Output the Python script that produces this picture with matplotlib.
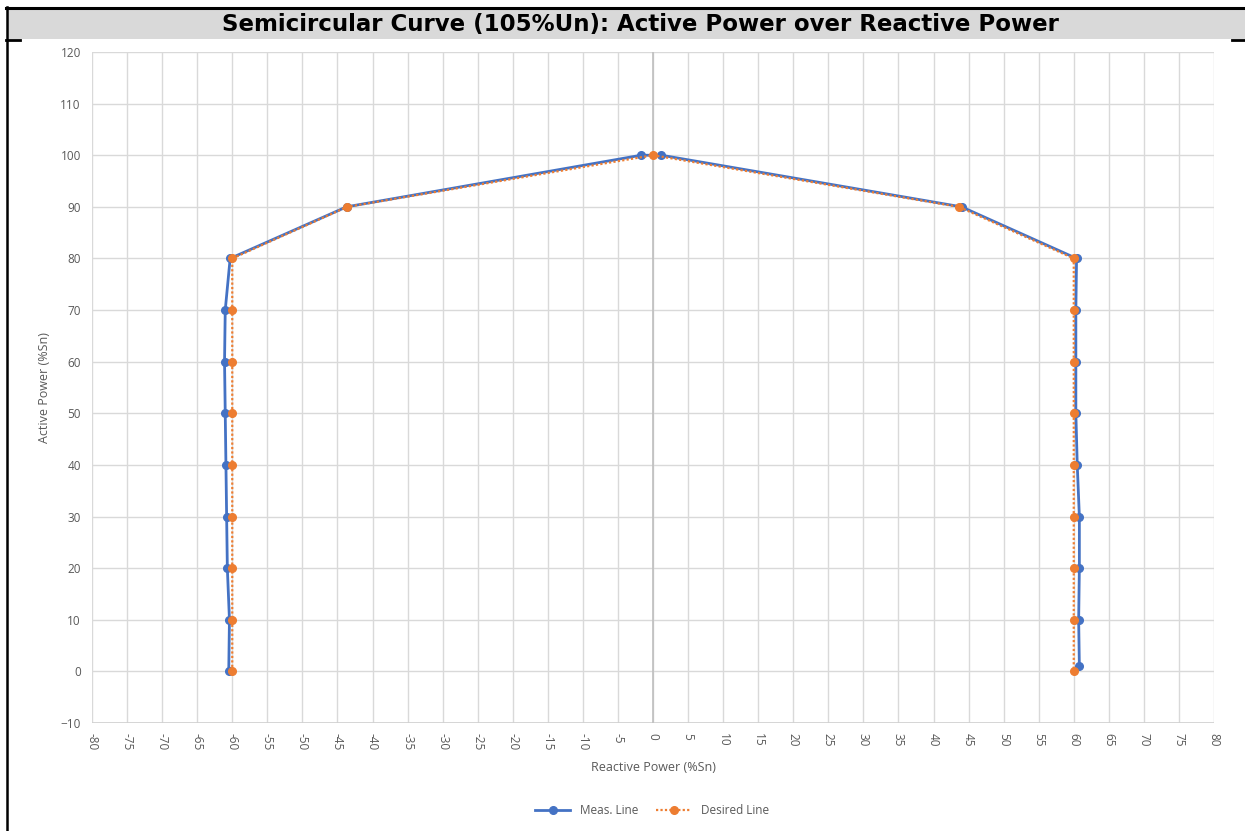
import matplotlib
matplotlib.use("Agg")
import matplotlib.pyplot as plt
from matplotlib.patches import Rectangle
from matplotlib.lines import Line2D

# Data
meas_q = [-60.5, -60.4, -60.7, -60.8, -60.9, -61.0, -61.1, -61.0, -60.3, -43.7, -1.7,
          1.2, 44.0, 60.4, 60.3, 60.3, 60.3, 60.5, 60.8, 60.8, 60.7, 60.8]
meas_p = [0, 10, 20, 30, 40, 50, 60, 70, 80, 90, 100,
          100, 90, 80, 70, 60, 50, 40, 30, 20, 10, 1]
des_q = [-60, -60, -60, -60, -60, -60, -60, -60, -60, -43.6, 0,
         43.6, 60, 60, 60, 60, 60, 60, 60, 60, 60]
des_p = [0, 10, 20, 30, 40, 50, 60, 70, 80, 90, 100,
         90, 80, 70, 60, 50, 40, 30, 20, 10, 0]
x_ticks = list(range(-80, 81, 5))
y_ticks = list(range(-10, 121, 10))

title = "Semicircular Curve (105%Un): Active Power over Reactive Power"

W, H = 1245, 831
fig = plt.figure(figsize=(W / 100, H / 100), dpi=100)

# Frame decorations
fig.patches.append(Rectangle((7 / W, 1 - 38.5 / H), 1 - 7 / W, 30 / H,
                             transform=fig.transFigure, facecolor="#d9d9d9",
                             edgecolor="none", zorder=0))
fig.lines.append(Line2D([6 / W, 1], [1 - 7.8 / H, 1 - 7.8 / H], transform=fig.transFigure,
                        color="black", lw=2.2))
fig.lines.append(Line2D([6.8 / W, 6.8 / W], [0, 1 - 7 / H], transform=fig.transFigure,
                        color="black", lw=1.8))
fig.lines.append(Line2D([6 / W, 20 / W], [1 - 39.5 / H, 1 - 39.5 / H], transform=fig.transFigure,
                        color="black", lw=2))
fig.lines.append(Line2D([1232 / W, 1], [1 - 39.5 / H, 1 - 39.5 / H], transform=fig.transFigure,
                        color="black", lw=2))

fig.text(640 / W, 1 - 24 / H, title, ha="center", va="center",
         fontsize=16.5, fontweight="bold", family="DejaVu Sans",
         color="black")

ax = fig.add_axes([92 / W, 1 - 723 / H, (1214 - 92) / W, (723 - 52) / H])
ax.set_xlim(-80, 80)
ax.set_ylim(-10, 120)
ax.set_xticks(x_ticks)
ax.set_yticks(y_ticks)
ax.set_xticklabels([str(v) for v in x_ticks], rotation=-90)
ax.grid(True, color="#d9d9d9", lw=1)
ax.set_axisbelow(True)
for s in ax.spines.values():
    s.set_visible(False)
ax.axhline(-10, color="#d0d0d0", lw=1.2, zorder=1)
ax.axvline(0, color="#bfbfbf", lw=1.2, zorder=1)
ax.tick_params(axis="x", length=0, labelsize=8.5, labelcolor="#595959", pad=7)
ax.tick_params(axis="y", length=0, labelsize=8.5, labelcolor="#595959", pad=8)
for lab in ax.get_xticklabels() + ax.get_yticklabels():
    lab.set_family("Open Sans")

ax.plot(meas_q, meas_p, color="#4472C4", lw=2.0, marker="o", markersize=5.5,
        label="Meas. Line", zorder=3)
ax.plot(des_q, des_p, color="#ED7D31", lw=1.6, ls=(0, (1, 1)), marker="o",
        markersize=5.5, label="Desired Line", zorder=4)

ax.set_xlabel("Reactive Power (%Sn)", fontsize=9, color="#595959", family="Open Sans",
              labelpad=8)
ax.set_ylabel("Active Power (%Sn)", fontsize=9, color="#595959", family="Open Sans",
              labelpad=7)

leg = fig.legend(loc="center", bbox_to_anchor=(652 / W, 1 - 811 / H), ncol=2,
                 frameon=False, handlelength=3, columnspacing=1.5,
                 prop={"family": "Open Sans", "size": 8.5})
for t in leg.get_texts():
    t.set_color("#595959")

fig.savefig("out.png", dpi=100)
